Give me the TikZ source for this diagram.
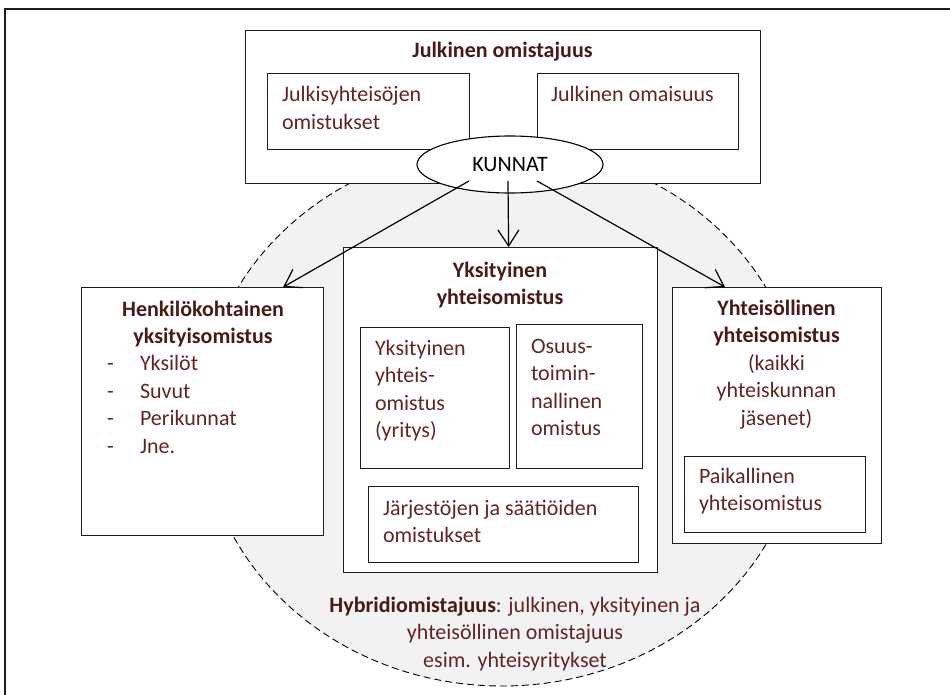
\documentclass[tikz,border=0pt]{standalone}
\usepackage{fontspec}
\setmainfont{Carlito}
\usetikzlibrary{arrows.meta,calc,shapes.geometric}
\definecolor{txtred}{HTML}{632523}
\definecolor{ttlred}{HTML}{4A1A18}
\definecolor{hybfill}{HTML}{F2F2F2}
\definecolor{edge}{HTML}{1E1E1E}
\newcommand{\lines}[2][l]{\begin{tabular}[t]{@{}#1@{}}#2\end{tabular}}
\begin{document}
\begin{tikzpicture}[x=1pt,y=-1pt,
  base/.style={font=\fontsize{22}{27.5}\selectfont,inner sep=0pt,outer sep=0pt},
  box/.style={draw=edge,line width=1.2pt,fill=white,inner sep=0pt,anchor=north west},
  label/.style={base,text=txtred},
  title/.style={base,text=ttlred,font=\fontsize{22}{27.5}\selectfont\bfseries},
  hybrid/.style={ellipse,draw=black,line width=0.9pt,dash pattern=on 7pt off 4pt,fill=hybfill,inner sep=0pt},
  arr/.style={draw=black,line width=1.2pt,-{Straight Barb[length=16pt,width=21pt,line width=1.2pt]}}
]
\useasboundingbox (0,0) rectangle (950,695);

% shared area of the hybrid forms
\node[hybrid,minimum width=600pt,minimum height=540pt] (hyb) at (502,416) {};

% frame of the page
\draw[edge,line width=1.4pt] (5,695) -- (5,9) -- (950,9);

% public ownership
\node[box,minimum width=515pt,minimum height=153pt] (pub) at (245,30) {};
\node[box,minimum width=202pt,minimum height=76pt] (pubA) at (267,73) {};
\node[box,minimum width=201pt,minimum height=76pt] (pubB) at (537,73) {};
\node[title,anchor=base] (pubT) at (502.5,58) {Julkinen omistajuus};
\node[label,anchor=base west] (pubAT) at (282,102) {\lines{Julkisyhteisöjen\\omistukset}};
\node[label,anchor=base west] (pubBT) at (551,102) {Julkinen omaisuus};

% municipalities
\node[ellipse,draw=black,line width=1.1pt,fill=white,inner sep=0pt,
      minimum width=186pt,minimum height=57pt,base] (kunnat) at (510,164.5) {KUNNAT};

% personal private ownership
\node[box,minimum width=242pt,minimum height=248pt] (henk) at (81,287) {};
\node[title,anchor=base] (henkT) at (203,316) {\lines[c]{Henkilökohtainen\\yksityisomistus}};
\node[label,anchor=base west] (henkL) at (107,370.5)
  {\begin{tabular}[t]{@{}l@{\hspace{26.3pt}}l@{}}-&Yksilöt\\-&Suvut\\-&Perikunnat\\-&Jne.\end{tabular}};

% private joint ownership
\node[box,minimum width=314pt,minimum height=325pt] (yks) at (343,247) {};
\node[title,anchor=base] (yksT) at (500,277) {\lines[c]{Yksityinen\\yhteisomistus}};
\node[box,minimum width=149pt,minimum height=141pt] (yksA) at (360,327) {};
\node[box,minimum width=126pt,minimum height=144pt] (yksB) at (516,324) {};
\node[box,minimum width=270pt,minimum height=76pt] (yksC) at (368,486) {};
\node[label,anchor=base west] (yksAT) at (375,355) {\lines{Yksityinen\\yhteis-\\omistus\\(yritys)}};
\node[label,anchor=base west] (yksBT) at (531,353) {\lines{Osuus-\\toimin-\\nallinen\\omistus}};
\node[label,anchor=base west] (yksCT) at (383,515) {\lines{Järjestöjen ja säätiöiden\\omistukset}};

% communal joint ownership
\node[box,minimum width=209pt,minimum height=256pt] (yht) at (672,287) {};
\node[label,anchor=base] (yhtT) at (776.5,315)
  {\lines[c]{\textcolor{ttlred}{\bfseries Yhteisöllinen}\\\textcolor{ttlred}{\bfseries yhteisomistus}\\(kaikki\\yhteiskunnan\\jäsenet)}};
\node[box,minimum width=181pt,minimum height=76pt] (yhtA) at (684,456) {};
\node[label,anchor=base west] (yhtAT) at (699,483) {\lines{Paikallinen\\yhteisomistus}};

% caption of the hybrid area
\node[label,anchor=base] (hybT) at (515,612)
  {\lines[c]{\textcolor{ttlred}{\bfseries Hybridiomistajuus}: julkinen, yksityinen ja\\yhteisöllinen omistajuus\\esim. yhteisyritykset}};

% links from the municipalities
\draw[arr] ([shift={(-41,16.5)}]kunnat.center) -- ([xshift=-41pt]henk.north east);
\draw[arr] ([shift={(-2,16.5)}]kunnat.center) -- ([xshift=8pt]yks.north);
\draw[arr] ([shift={(27,16.5)}]kunnat.center) -- ([xshift=53pt]yht.north west);
\end{tikzpicture}
\end{document}
